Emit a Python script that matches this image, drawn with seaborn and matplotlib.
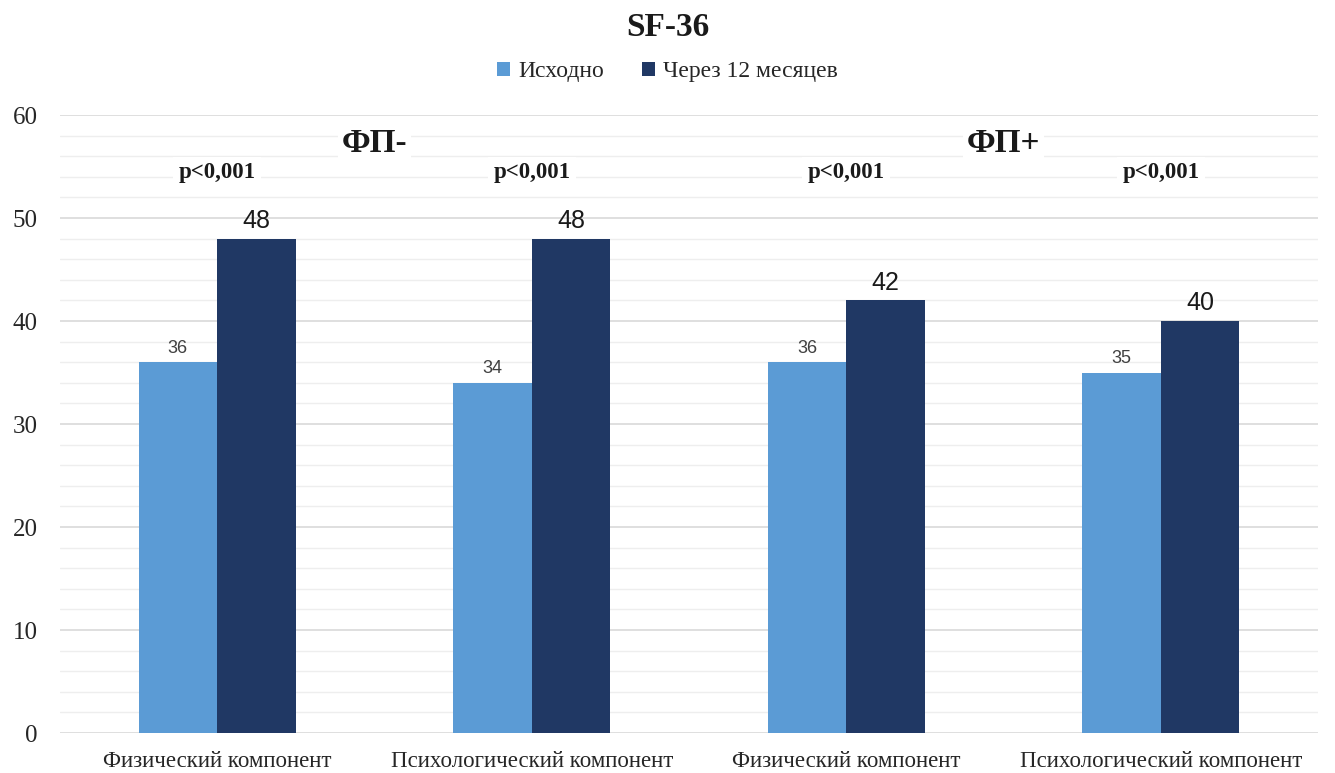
import matplotlib
matplotlib.use("Agg")
import matplotlib.pyplot as plt
from matplotlib.ticker import MultipleLocator
import seaborn as sns
import pandas as pd

# Data
groups = ["ФП-", "ФП-", "ФП+", "ФП+"]
components = ["Физический компонент", "Психологический компонент",
              "Физический компонент", "Психологический компонент"]
series_names = ["Исходно", "Через 12 месяцев"]
baseline = [36, 34, 36, 35]
month12 = [48, 48, 42, 40]
p_values = ["p<0,001", "p<0,001", "p<0,001", "p<0,001"]
group_labels = ["ФП-", "ФП+"]

keys = [f"{g} {c}" for g, c in zip(groups, components)]
df = pd.DataFrame({
    "key": keys * 2,
    "series": [series_names[0]] * 4 + [series_names[1]] * 4,
    "value": baseline + month12,
})

sns.set_theme(style="white")
plt.rcParams["font.family"] = ["Liberation Serif", "DejaVu Serif"]

fig = plt.figure(figsize=(13.35, 7.73), dpi=100)
ax = fig.add_axes([0.0449, 0.0517, 0.9424, 0.7995])

colors = ["#5B9BD5", "#203864"]
sns.barplot(data=df, x="key", y="value", hue="series", order=keys,
            hue_order=series_names, palette=colors, width=0.5,
            saturation=1, linewidth=0, edgecolor="none", ax=ax, legend=True)

ax.set_ylim(0, 60)
ax.set_xlim(-0.5, 3.5)
ax.yaxis.set_major_locator(MultipleLocator(10))
ax.yaxis.set_minor_locator(MultipleLocator(2))
ax.grid(axis="y", which="major", color="#D9D9D9", linewidth=1.2, zorder=0)
ax.grid(axis="y", which="minor", color="#EEEEEE", linewidth=1.0, zorder=0)
ax.set_axisbelow(True)
for s in ax.spines.values():
    s.set_visible(False)
ax.tick_params(axis="both", length=0, colors="#262626")
ax.tick_params(axis="y", pad=16, labelsize=18)
ax.tick_params(axis="x", pad=13, labelsize=16.5)
ax.set_xticks(range(4))
ax.set_xticklabels(components)
ax.set_xlabel("")
ax.set_ylabel("")

# Value labels
for cont, size, color in zip(ax.containers, [13, 18], ["#404040", "#1A1A1A"]):
    labels = [f"{v:.0f}" for v in cont.datavalues]
    ax.bar_label(cont, labels=labels, padding=4, fontsize=size, color=color,
                 family=["Liberation Sans", "DejaVu Sans"])

# p-values and group headers
for i, p in enumerate(p_values):
    ax.text(i, 54.4, p, ha="center", va="center", fontsize=16.5, fontweight="bold",
            color="#1A1A1A",
            bbox=dict(facecolor="white", edgecolor="none", pad=4))
for i, g in enumerate(group_labels):
    ax.text(0.5 + 2 * i, 57.2, g, ha="center", va="center", fontsize=24,
            fontweight="bold", color="#1A1A1A",
            bbox=dict(facecolor="white", edgecolor="none", pad=3))

fig.suptitle("SF-36", x=0.5, y=0.985, fontsize=24, fontweight="bold", color="#1A1A1A")

ax.legend(loc="upper center", bbox_to_anchor=(0.5, 0.948), bbox_transform=fig.transFigure,
          ncol=2, frameon=False, fontsize=17, handlelength=0.55, handleheight=0.55,
          handletextpad=0.35, columnspacing=1.6)

fig.savefig("out.png", dpi=100)
